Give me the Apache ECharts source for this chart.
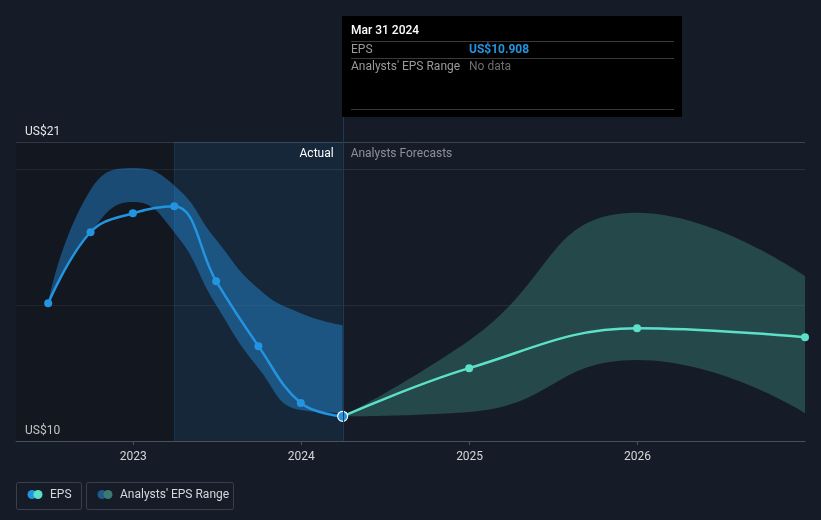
<!DOCTYPE html>
<html><head><meta charset="utf-8">
<script src="https://cdn.jsdelivr.net/npm/echarts@6/dist/echarts.min.js"></script>
<style>html,body{margin:0;padding:0;background:#161c27;} #c{width:821px;height:520px;}</style>
</head><body><div id="c"></div>
<script>
// ---- data ----
const actualDates = ['2022-06-30','2022-09-30','2022-12-31','2023-03-31','2023-06-30','2023-09-30','2023-12-31','2024-03-31'];
const actualEps   = [15.07, 17.68, 18.38, 18.64, 15.88, 13.49, 11.40, 10.908];
const pastRangeLow  = [15.07, 17.68, 18.79, 17.68, 15.00, 12.68, 11.14, 11.03];
const pastRangeHigh = [15.07, 19.23, 20.04, 19.40, 17.40, 15.60, 14.70, 14.26];
const forecastDates = ['2024-03-31','2024-12-31','2025-12-31','2026-12-31'];
const forecastEps   = [10.908, 12.68, 14.15, 13.82];
const forecastLow   = [10.908, 11.07, 12.98, 11.03];
const forecastHigh  = [10.908, 13.70, 18.40, 16.07];
const xMin = '2022-04-21', xMax = '2026-12-31';
const yMin = 10, yMax = 21;
const actualEnd = '2024-03-31', estStart = '2023-03-31';

const FONT = 'Roboto, "Noto Sans", sans-serif';
const pair = (d, v) => d.map((x, i) => [x, v[i]]);
const diff = (h, l) => h.map((x, i) => +(x - l[i]).toFixed(3));

const chart = echarts.init(document.getElementById('c'), null, {renderer: 'canvas'});
const option = {
  backgroundColor: '#161c27',
  animation: false,
  textStyle: {fontFamily: FONT},
  grid: {left: 16, right: 16, top: 142, bottom: 79},
  xAxis: {
    type: 'time', min: xMin, max: xMax,
    minInterval: 365 * 24 * 3600 * 1000,
    axisLine: {lineStyle: {color: '#4b505a'}},
    axisTick: {show: true, length: 4, lineStyle: {color: '#4b505a'}},
    axisLabel: {color: '#d6d7d9', fontSize: 12, fontFamily: FONT, margin: 10,
      formatter: v => String(new Date(v).getFullYear())},
    splitLine: {show: false}
  },
  yAxis: {
    type: 'value', min: yMin, max: yMax, interval: 5,
    axisLine: {show: false}, axisTick: {show: false},
    axisLabel: {inside: true, margin: 9, color: '#e6e6e6', fontSize: 12, fontFamily: FONT,
      verticalAlign: 'bottom', padding: [0, 0, 4, 0],
      formatter: v => (v === yMin || v === yMax) ? 'US$' + v : ''},
    splitLine: {show: true, lineStyle: {color: ['#2a303a', '#262b34', '#2a303a', '#3c4350'], width: 1}}
  },
  series: [
    {
      name: 'shade', type: 'line', data: [], silent: true, z: 0,
      markArea: {silent: true, data: [
        [{xAxis: xMin, itemStyle: {color: 'rgba(0,0,0,0.16)'}}, {xAxis: estStart}],
        [{xAxis: estStart, itemStyle: {color: 'rgba(25,115,185,0.13)'}}, {xAxis: actualEnd}]
      ]},
      markLine: {silent: true, symbol: 'none', label: {show: false},
        lineStyle: {color: 'rgba(35,148,223,0.15)', type: 'solid', width: 1},
        data: [{xAxis: estStart}]}
    },
    {name: 'pastLow', type: 'line', stack: 'past', data: pair(actualDates, pastRangeLow),
      smooth: 0.5, symbol: 'none', lineStyle: {opacity: 0}, z: 1, silent: true},
    {name: 'pastBand', type: 'line', stack: 'past', data: pair(actualDates, diff(pastRangeHigh, pastRangeLow)),
      smooth: 0.5, symbol: 'none', lineStyle: {opacity: 0}, z: 1, silent: true,
      areaStyle: {color: 'rgba(35,140,220,0.45)', opacity: 1}},
    {name: 'foreLow', type: 'line', stack: 'fore', data: pair(forecastDates, forecastLow),
      smooth: 0.5, symbol: 'none', lineStyle: {opacity: 0}, z: 1, silent: true},
    {name: 'foreBand', type: 'line', stack: 'fore', data: pair(forecastDates, diff(forecastHigh, forecastLow)),
      smooth: 0.5, symbol: 'none', lineStyle: {opacity: 0}, z: 1, silent: true,
      areaStyle: {color: 'rgba(80,185,170,0.28)', opacity: 1}},
    {name: 'EPS forecast', type: 'line', z: 3,
      data: forecastDates.map((d, i) => ({value: [d, forecastEps[i]], symbolSize: i === 0 ? 0 : 8})),
      smooth: 0.4, symbol: 'circle', showSymbol: true,
      lineStyle: {color: '#5de0c8', width: 2.5}, itemStyle: {color: '#5de0c8'}},
    {name: 'EPS', type: 'line', z: 4,
      data: actualDates.map((d, i) => {
        const last = i === actualDates.length - 1;
        return {value: [d, actualEps[i]], symbolSize: last ? 10 : 8,
          itemStyle: last ? {color: '#2394df', borderColor: '#ffffff', borderWidth: 1.2} : {color: '#2394df'}};
      }),
      smooth: 0.4, symbol: 'circle', showSymbol: true,
      lineStyle: {color: '#2394df', width: 2.5}, itemStyle: {color: '#2394df'}}
  ]
};
chart.setOption(option);

// overlays positioned via the chart's own scales
const px = chart.convertToPixel({xAxisIndex: 0}, actualEnd);
const yTop = chart.convertToPixel({yAxisIndex: 0}, yMax);
const yBot = chart.convertToPixel({yAxisIndex: 0}, yMin);
const tipX = Math.round(px) - 1, tipY = 16, tipW = 340, tipH = 101;
const tl = tipX + 9;
const txt = (x, y, s, color, extra) => ({type: 'text', x: x, y: y, z: 20,
  style: Object.assign({text: s, fill: color, font: '12px ' + FONT, textVerticalAlign: 'middle'}, extra || {})});
const hline = (y) => ({type: 'line', z: 15, shape: {x1: tl, y1: y, x2: tipX + 332, y2: y}, style: {stroke: '#3a3a3a', lineWidth: 1}});
chart.setOption({graphic: [
  {type: 'line', z: 5, shape: {x1: Math.round(px) + 0.5, y1: tipY + tipH, x2: Math.round(px) + 0.5, y2: yBot}, style: {stroke: '#1c3957', lineWidth: 1}},
  {type: 'rect', z: 10, shape: {x: tipX, y: tipY, width: tipW, height: tipH}, style: {fill: '#000000'}},
  txt(tl, 31, 'Mar 31 2024', '#ffffff', {font: '500 12px ' + FONT}),
  hline(41.5),
  txt(tl, 49.5, 'EPS', '#9a9a9a'),
  txt(tipX + 127, 49.5, 'US$10.908', '#2394df', {font: 'bold 12px ' + FONT}),
  hline(58.5),
  txt(tl, 66.5, "Analysts' EPS Range", '#9a9a9a'),
  txt(tipX + 127, 66.5, 'No data', '#6e6e6e'),
  hline(109.5),
  txt(px - 9, yTop + 12, 'Actual', '#ffffff', {textAlign: 'right'}),
  txt(px + 8, yTop + 12, 'Analysts Forecasts', '#8c9099'),
  // legend
  {type: 'rect', z: 10, shape: {x: 16.5, y: 482.5, width: 65, height: 27, r: 2}, style: {fill: 'none', stroke: '#3a3f4a', lineWidth: 1}},
  {type: 'circle', z: 10, shape: {cx: 32, cy: 494.5, r: 4.5}, style: {fill: '#2394df'}},
  {type: 'circle', z: 11, shape: {cx: 38, cy: 494.5, r: 4.5}, style: {fill: '#5de0c8'}},
  txt(50, 495, 'EPS', '#d6d7d9'),
  {type: 'rect', z: 10, shape: {x: 86.5, y: 482.5, width: 147, height: 27, r: 2}, style: {fill: 'none', stroke: '#3a3f4a', lineWidth: 1}},
  {type: 'circle', z: 10, shape: {cx: 102, cy: 494.5, r: 4.5}, style: {fill: '#1f5a8a'}},
  {type: 'circle', z: 11, shape: {cx: 108, cy: 494.5, r: 4.5}, style: {fill: '#3a7a74'}},
  txt(120, 495, "Analysts' EPS Range", '#d6d7d9')
]});
</script>
</body></html>
